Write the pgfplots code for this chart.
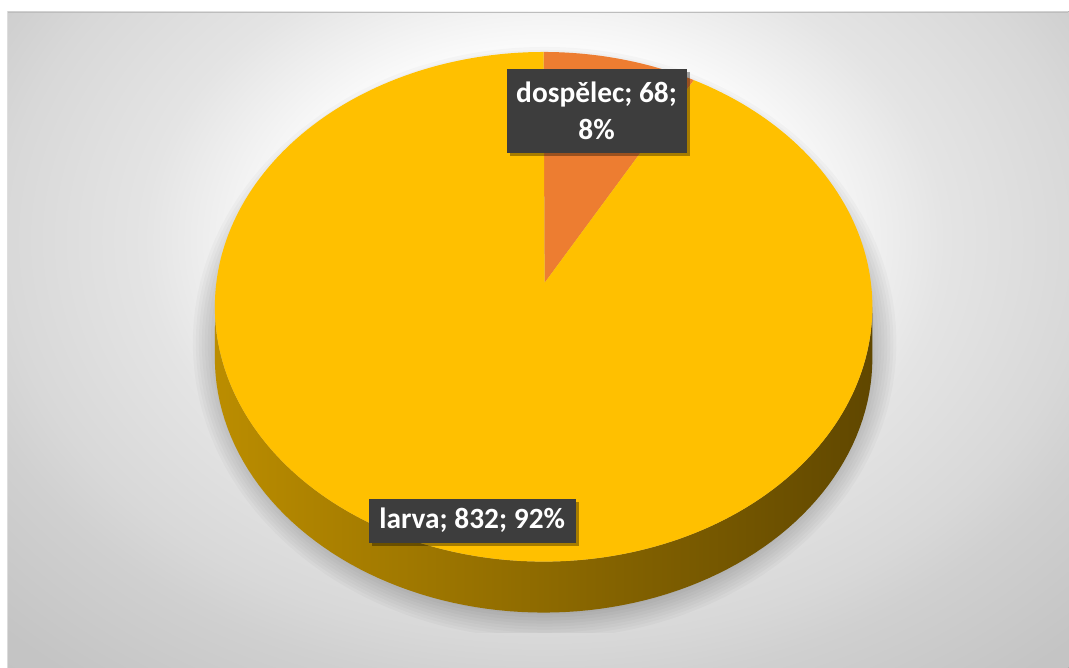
\documentclass[border=0pt]{standalone}
\usepackage{pgfplots}
\pgfplotsset{compat=1.18}
\usepackage{pgfplotstable}
\usepackage{fontspec}
\setmainfont{Carlito}
\definecolor{pieyellow}{HTML}{FFC000}
\definecolor{pieorange}{HTML}{ED7D31}
\definecolor{labelbg}{HTML}{3D3D3D}
\definecolor{sideL}{HTML}{BB8D00}
\definecolor{sideM}{HTML}{7A5A00}
\definecolor{sideR}{HTML}{604700}
\definecolor{bgtop}{HTML}{BDBDBD}
\definecolor{bgA}{HTML}{FBFBFB}
\definecolor{bgB}{HTML}{E4E4E4}
\definecolor{bgC}{HTML}{D8D8D8}
\definecolor{bgD}{HTML}{D0D0D0}
\definecolor{bgE}{HTML}{C4C4C4}
\definecolor{bgF}{HTML}{BEBEBE}
\pgfdeclareradialshading{chartbg}{\pgfpoint{0bp}{0bp}}{%
  color(0bp)=(white); color(8.5bp)=(bgA); color(13.2bp)=(bgB); color(17.9bp)=(bgC);
  color(20bp)=(bgD); color(25bp)=(bgE); color(35.4bp)=(bgF); color(50bp)=(bgF)}

\pgfplotstableread{
label value
dospelec 68
larva 832
}\piedata
\pgfplotstablegetelem{0}{value}\of\piedata \let\valA\pgfplotsretval
\pgfplotstablegetelem{1}{value}\of\piedata \let\valB\pgfplotsretval
\pgfmathsetmacro\fracA{\valA/(\valA+\valB)}
\pgfmathsetmacro\angA{360*\fracA}

\def\cx{544}\def\cy{307}\def\rx{329}\def\ry{255}
\def\ax{545}\def\ay{283}\def\dep{51}

\begin{document}
\begin{tikzpicture}
\begin{axis}[
  scale only axis, width=1069bp, height=668bp,
  xmin=0, xmax=1069, ymin=0, ymax=668, y dir=reverse,
  hide axis, clip=false]
  \path (0,0) rectangle (1069,668);
  % background: radial gradient
  \begin{scope}
    \clip (8,12) rectangle (1069,668);
    \fill[shading=chartbg] (-215,-320) rectangle (1305,800);
  \end{scope}
  \draw[bgtop, line width=1.5bp] (8,12.5) -- (1069,12.5);
  % soft shadow (clipped at the plot area bottom)
  \begin{scope}
    \clip (8,12) rectangle (1069,633);
    \fill[black, opacity=0.025] (545,343) ellipse [x radius=328bp, y radius=272bp];
    \fill[black, opacity=0.025] (545,343) ellipse [x radius=331bp, y radius=275bp];
    \fill[black, opacity=0.025] (545,343) ellipse [x radius=334bp, y radius=278bp];
    \fill[black, opacity=0.025] (545,343) ellipse [x radius=337bp, y radius=281bp];
    \fill[black, opacity=0.025] (545,343) ellipse [x radius=340bp, y radius=284bp];
    \fill[black, opacity=0.025] (545,343) ellipse [x radius=343bp, y radius=287bp];
    \fill[black, opacity=0.025] (545,343) ellipse [x radius=346bp, y radius=290bp];
    \fill[black, opacity=0.025] (545,343) ellipse [x radius=349bp, y radius=293bp];
    \fill[black, opacity=0.025] (545,343) ellipse [x radius=352bp, y radius=296bp];
  \end{scope}
  % side of the pie
  \addplot[left color=sideL, middle color=sideM, right color=sideR, draw=none,
    domain=90:450, samples=181, variable=\t]
    ({\cx+\rx*sin(ifthenelse(\t<=270,\t,540-\t))},
     {\cy-\ry*cos(ifthenelse(\t<=270,\t,540-\t))+ifthenelse(\t<=270,\dep,0)}) -- cycle;
  % top slices
  \addplot[fill=pieorange, draw=none, domain=0:\angA, samples=40, variable=\t]
    ({\cx+\rx*sin(\t)},{\cy-\ry*cos(\t)}) -- (\ax,\ay) -- cycle;
  \addplot[fill=pieyellow, draw=none, domain=\angA:360, samples=241, variable=\t]
    ({\cx+\rx*sin(\t)},{\cy-\ry*cos(\t)}) -- (\ax,\ay) -- cycle;
  % data labels
  \node[fill=black, opacity=0.35, minimum width=180bp, minimum height=84bp, inner sep=0pt] at (600,114.5) {};
  \node[fill=labelbg, text=white, minimum width=180bp, minimum height=84bp, inner sep=0pt,
    align=center, font=\bfseries\fontsize{29.5}{37}\selectfont] at (597,111) {dospělec; 68;\\8\%};
  \node[fill=black, opacity=0.35, minimum width=207bp, minimum height=44bp, inner sep=0pt] at (475.5,524.5) {};
  \node[fill=labelbg, text=white, minimum width=207bp, minimum height=44bp, inner sep=0pt,
    font=\bfseries\fontsize{29.5}{37}\selectfont] at (472.5,521) {larva; 832; 92\%};
\end{axis}
\end{tikzpicture}
\end{document}
